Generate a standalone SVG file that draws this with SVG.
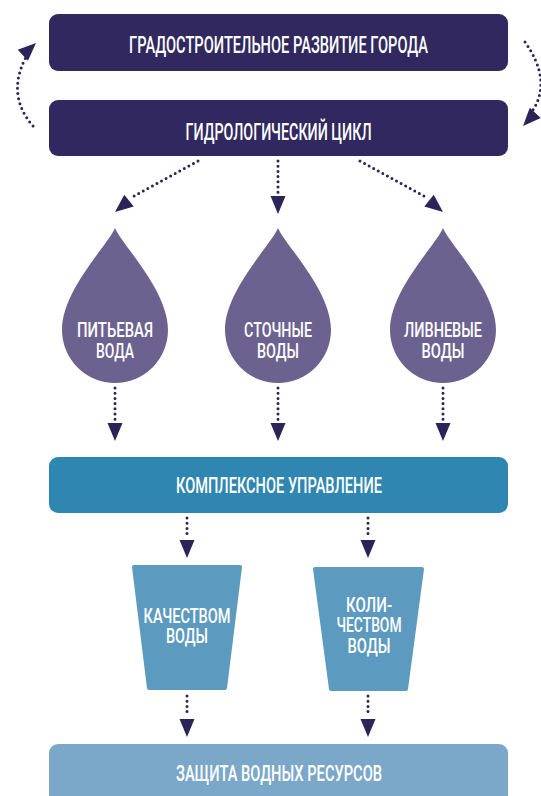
<svg xmlns="http://www.w3.org/2000/svg" width="541" height="796" viewBox="0 0 541 796">
<style>
.t{font-family:Roboto,"Liberation Sans",Arial,sans-serif;font-weight:500;fill:#fff;text-anchor:middle}
.dot{fill:none;stroke:#2b2459;stroke-width:3;stroke-linecap:round;stroke-dasharray:0 5.2}
.head{fill:#2b2459}
.dark{fill:#30285f}
.drop{fill:#6c6290}
.mid{fill:#2f86b1}
.trap{fill:#5d9abf;stroke:#5d9abf;stroke-width:4;stroke-linejoin:round}
.low{fill:#7ba7c9}
</style>
<defs>
<path id="ah" d="M0,0 L-7.5,-18 L7.5,-18 Z"/>
</defs>
<rect width="541" height="796" fill="#fff"/>
<g id="connectors">
<path class="dot" d="M33,126 Q6,95 26,57"/>
<use href="#ah" class="head" transform="translate(36,43) rotate(-133)"/>
<path class="dot" d="M525,42 Q552,80 533,110"/>
<use href="#ah" class="head" transform="translate(523,126) rotate(43)"/>
<path class="dot" d="M198,161 L134,196"/>
<use href="#ah" class="head" transform="translate(115,212) rotate(51)"/>
<path class="dot" d="M278,161 L278,194"/>
<use href="#ah" class="head" transform="translate(278,214)"/>
<path class="dot" d="M360,161 L424,196"/>
<use href="#ah" class="head" transform="translate(443,212) rotate(-51)"/>
<path class="dot" d="M115,388 L115,421"/>
<use href="#ah" class="head" transform="translate(115,441)"/>
<path class="dot" d="M278,388 L278,421"/>
<use href="#ah" class="head" transform="translate(278,441)"/>
<path class="dot" d="M443,388 L443,421"/>
<use href="#ah" class="head" transform="translate(443,441)"/>
<path class="dot" d="M187,518 L187,538"/>
<use href="#ah" class="head" transform="translate(187,558)"/>
<path class="dot" d="M368,518 L368,538"/>
<use href="#ah" class="head" transform="translate(368,558)"/>
<path class="dot" d="M187,696 L187,716"/>
<use href="#ah" class="head" transform="translate(187,737)"/>
<path class="dot" d="M368,696 L368,716"/>
<use href="#ah" class="head" transform="translate(368,737)"/>
</g>
<g id="urban">
<rect class="dark" x="49" y="14" width="459" height="57" rx="9"/>
<text class="t" x="278.5" y="53" font-size="23" textLength="299" lengthAdjust="spacingAndGlyphs">ГРАДОСТРОИТЕЛЬНОЕ РАЗВИТИЕ ГОРОДА</text>
</g>
<g id="hydro">
<rect class="dark" x="49" y="100" width="459" height="56" rx="9"/>
<text class="t" x="278.5" y="140" font-size="23" textLength="186" lengthAdjust="spacingAndGlyphs">ГИДРОЛОГИЧЕСКИЙ ЦИКЛ</text>
</g>
<g id="drink">
<path class="drop" d="M115,228 C122,245 168,290 168,330 A53,53 0 0 1 62,330 C62,290 108,245 115,228 Z"/>
<text class="t" x="115" y="337" font-size="21" textLength="76" lengthAdjust="spacingAndGlyphs">ПИТЬЕВАЯ</text>
<text class="t" x="115" y="358" font-size="21" textLength="38" lengthAdjust="spacingAndGlyphs">ВОДА</text>
</g>
<g id="waste">
<path class="drop" d="M278,228 C285,245 331,290 331,330 A53,53 0 0 1 225,330 C225,290 271,245 278,228 Z"/>
<text class="t" x="278" y="337" font-size="21" textLength="68" lengthAdjust="spacingAndGlyphs">СТОЧНЫЕ</text>
<text class="t" x="278" y="358" font-size="21" textLength="42" lengthAdjust="spacingAndGlyphs">ВОДЫ</text>
</g>
<g id="storm">
<path class="drop" d="M443,228 C450,245 496,290 496,330 A53,53 0 0 1 390,330 C390,290 436,245 443,228 Z"/>
<text class="t" x="443" y="337" font-size="21" textLength="78" lengthAdjust="spacingAndGlyphs">ЛИВНЕВЫЕ</text>
<text class="t" x="443" y="358" font-size="21" textLength="43" lengthAdjust="spacingAndGlyphs">ВОДЫ</text>
</g>
<g id="complex">
<rect class="mid" x="49" y="457" width="459" height="56" rx="9"/>
<text class="t" x="279" y="493" font-size="22" textLength="206" lengthAdjust="spacingAndGlyphs">КОМПЛЕКСНОЕ УПРАВЛЕНИЕ</text>
</g>
<g id="quality">
<path class="trap" d="M134,567 L240,567 L225,688 L149,688 Z"/>
<text class="t" x="187" y="623" font-size="20" textLength="87" lengthAdjust="spacingAndGlyphs">КАЧЕСТВОМ</text>
<text class="t" x="187" y="643" font-size="20" textLength="42" lengthAdjust="spacingAndGlyphs">ВОДЫ</text>
</g>
<g id="quantity">
<path class="trap" d="M315,569 L422,569 L406,689 L331,689 Z"/>
<text class="t" x="369" y="612" font-size="20" textLength="46" lengthAdjust="spacingAndGlyphs">КОЛИ-</text>
<text class="t" x="369" y="632" font-size="20" textLength="65" lengthAdjust="spacingAndGlyphs">ЧЕСТВОМ</text>
<text class="t" x="369" y="653" font-size="20" textLength="43" lengthAdjust="spacingAndGlyphs">ВОДЫ</text>
</g>
<g id="protect">
<rect class="low" x="49" y="744" width="459" height="64" rx="9"/>
<text class="t" x="279" y="781" font-size="22" textLength="206" lengthAdjust="spacingAndGlyphs">ЗАЩИТА ВОДНЫХ РЕСУРСОВ</text>
</g>
</svg>
